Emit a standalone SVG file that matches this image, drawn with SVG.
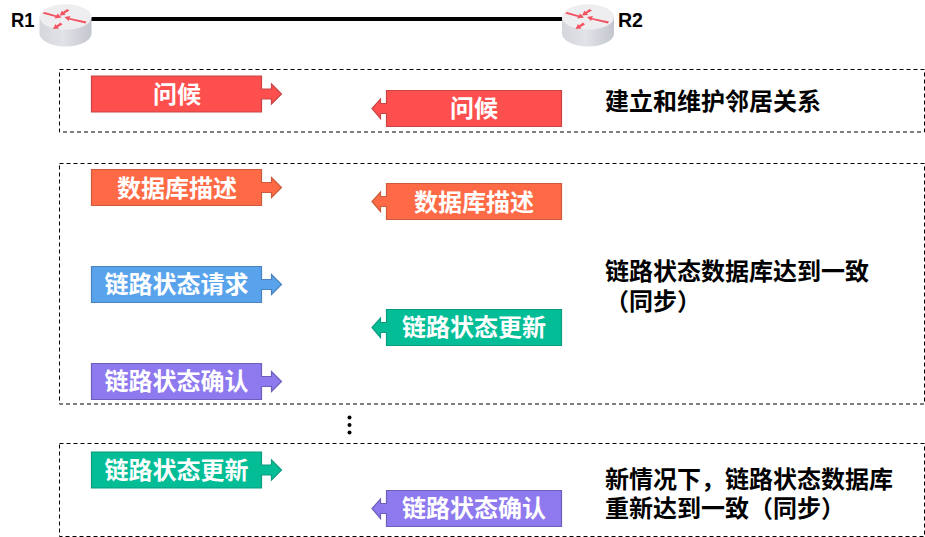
<svg xmlns="http://www.w3.org/2000/svg" width="925" height="537" viewBox="0 0 925 537">
<style>
text{font-family:"Noto Sans CJK SC","Liberation Sans",sans-serif;font-weight:700}
.b{fill:none;stroke:#000;stroke-width:1;stroke-dasharray:4 3}
.m{fill:#fff;font-size:24px;text-anchor:middle}
.n{fill:#000;font-size:24px}
.l{font-family:"Liberation Sans",sans-serif;font-size:21px;fill:#000}
.red{fill:#fe4f4f;stroke:#c94444}
.org{fill:#fe6a45;stroke:#cc5a3c}
.blu{fill:#59a3ec;stroke:#4c83bd}
.grn{fill:#03bd97;stroke:#0a9c7e}
.pur{fill:#8e79ef;stroke:#6d5fbc}
.arr{stroke-width:1.2}
</style>
<defs>
<linearGradient id="side" x1="0" x2="1" y1="0" y2="0"><stop offset="0" stop-color="#d4d6dc"/><stop offset=".45" stop-color="#e2e3e8"/><stop offset="1" stop-color="#c4c6cf"/></linearGradient>
<g id="router">
<path d="M0 13V29C0 37 12 42.500 26 42.500S52 37 52 29V13Z" fill="url(#side)"/>
<ellipse cx="26" cy="13" rx="26" ry="12.800" fill="#eeeef1"/>
<g fill="#f2535f">
<path d="M3 9.500L5 8L17 11.500L18 9.500L22 13.500L15 14.500L16 13Z"/>
<path d="M27.500 5L30 6.500L25 9.500L26 11L20 11.500L22.500 6.500L23.500 8Z"/>
<path d="M25 13L31 12L30 14L47 17.500L46 19.500L29.500 15.500L29 17Z"/>
<path d="M21 18.500L23 20.500L18.500 23L19.500 24.500L13.500 25L16 20L17 21.500Z"/>
</g>
</g>
<path id="ar" class="arr" d="M0 0H170V13H180V8L190 18L180 28V23H170V36H0Z"/>
<path id="al" class="arr" d="M0 0H175V36H0V23H-6V28L-14.500 18L-6 8.500V13H0Z"/>
</defs>
<g id="connectors">
<path d="M91 19H563" stroke="#000" stroke-width="4" fill="none"/>
</g>
<g id="r1"><use href="#router" x="39.500" y="4"/><text class="l" x="11" y="27" textLength="23.500" lengthAdjust="spacingAndGlyphs">R1</text></g>
<g id="r2"><use href="#router" x="562" y="4"/><text class="l" x="618" y="27" textLength="25" lengthAdjust="spacingAndGlyphs">R2</text></g>
<g id="group1"><rect class="b" x="59.500" y="69.500" width="865" height="62.500"/><text class="n" x="605" y="110">建立和维护邻居关系</text></g>
<g id="group2"><rect class="b" x="59.500" y="163.500" width="865" height="240.500"/><text class="n" x="605" y="280">链路状态数据库达到一致</text><text class="n" x="605" y="310">（同步）</text></g>
<g id="group3"><rect class="b" x="59.500" y="443.500" width="865" height="93"/><text class="n" x="605" y="488">新情况下，链路状态数据库</text><text class="n" x="605" y="517">重新达到一致（同步）</text></g>
<g id="dots"><circle cx="349.500" cy="417.500" r="2"/><circle cx="349.500" cy="425" r="2"/><circle cx="349.500" cy="432.500" r="2"/></g>
<g id="m1"><use href="#ar" x="91.500" y="76" class="red"/><text class="m" x="177" y="103">问候</text></g>
<g id="m2"><use href="#al" x="386.500" y="90.500" class="red"/><text class="m" x="474" y="117">问候</text></g>
<g id="m3"><use href="#ar" x="91.500" y="169.500" class="org"/><text class="m" x="177" y="197">数据库描述</text></g>
<g id="m4"><use href="#al" x="386.500" y="183.500" class="org"/><text class="m" x="474" y="211">数据库描述</text></g>
<g id="m5"><use href="#ar" x="91.500" y="266.500" class="blu"/><text class="m" x="176.500" y="293">链路状态请求</text></g>
<g id="m6"><use href="#al" x="386.500" y="309.500" class="grn"/><text class="m" x="474" y="336">链路状态更新</text></g>
<g id="m7"><use href="#ar" x="91.500" y="363.500" class="pur"/><text class="m" x="176.500" y="390">链路状态确认</text></g>
<g id="m8"><use href="#ar" x="91.500" y="452" class="grn"/><text class="m" x="176.500" y="479">链路状态更新</text></g>
<g id="m9"><use href="#al" x="386.500" y="490.500" class="pur"/><text class="m" x="474" y="517">链路状态确认</text></g>
</svg>
